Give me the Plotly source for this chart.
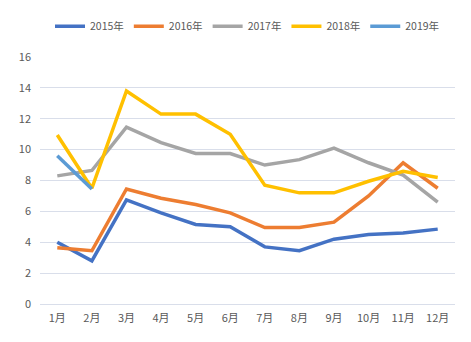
import plotly.graph_objects as go

months = ["1月", "2月", "3月", "4月", "5月", "6月", "7月", "8月", "9月", "10月", "11月", "12月"]
y2015 = [4.0, 2.8, 6.75, 5.9, 5.15, 5.0, 3.7, 3.45, 4.2, 4.5, 4.6, 4.85]
y2016 = [3.65, 3.45, 7.45, 6.85, 6.45, 5.9, 4.95, 4.95, 5.3, 7.0, 9.15, 7.5]
y2017 = [8.3, 8.65, 11.45, 10.45, 9.75, 9.75, 9.0, 9.35, 10.1, 9.15, 8.35, 6.6]
y2018 = [10.95, 7.5, 13.8, 12.3, 12.3, 11.0, 7.7, 7.2, 7.2, 7.95, 8.6, 8.2]
y2019 = [9.6, 7.45]

series = [
    ("2015年", y2015, "#4472C4"),
    ("2016年", y2016, "#ED7D31"),
    ("2017年", y2017, "#A5A5A5"),
    ("2018年", y2018, "#FFC000"),
    ("2019年", y2019, "#5B9BD5"),
]

fig = go.Figure()
for name, vals, color in series:
    fig.add_trace(go.Scatter(
        x=months[:len(vals)], y=vals, name=name, mode="lines",
        line=dict(color=color, width=3.5),
    ))

font = dict(family="Noto Sans CJK SC, sans-serif", size=11, color="#595959")
fig.update_layout(
    width=471, height=342,
    margin=dict(l=40, r=16, t=53, b=38),
    paper_bgcolor="white", plot_bgcolor="white",
    font=font,
    showlegend=True,
    legend=dict(orientation="h", x=0.5, xanchor="center", y=1.125, yanchor="middle",
                font=dict(size=10.5, color="#595959"), itemwidth=30,
                traceorder="normal", tracegroupgap=0),
    xaxis=dict(type="category", range=[-0.5, 11.5], showgrid=False, showline=False,
               ticks="", tickfont=font),
    yaxis=dict(range=[0, 16], dtick=2, showgrid=True, gridcolor="#D9DEEA", gridwidth=1,
               zeroline=True, zerolinecolor="#D9DEEA", zerolinewidth=1,
               showline=False, ticks="", tickfont=font),
)
fig.update_yaxes(ticklabelstandoff=8)
fig.update_xaxes(ticklabelstandoff=6)

fig.write_html("out.html")
